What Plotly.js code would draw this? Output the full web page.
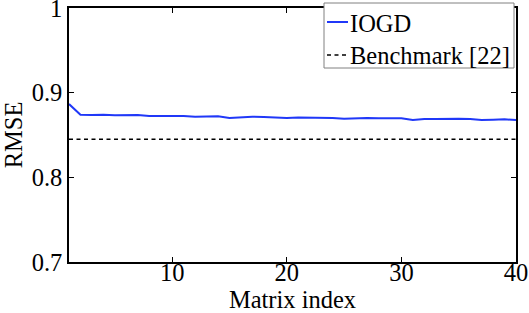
<!DOCTYPE html>
<html><head><meta charset="utf-8">
<script src="https://cdn.plot.ly/plotly-3.0.1.min.js"></script>
<style>body{margin:0;background:#fff}#c{width:529px;height:313px}</style>
</head><body><div id="c"></div>
<script>
const matrixIndex = [1,2,3,4,5,6,7,8,9,10,11,12,13,14,15,16,17,18,19,20,21,22,23,24,25,26,27,28,29,30,31,32,33,34,35,36,37,38,39,40];
const iogdRMSE = [0.8866,0.8740,0.8736,0.8740,0.8732,0.8736,0.8736,0.8724,0.8724,0.8728,0.8724,0.8716,0.8720,0.8720,0.8701,0.8712,0.8716,0.8712,0.8708,0.8701,0.8708,0.8708,0.8704,0.8701,0.8693,0.8701,0.8701,0.8697,0.8697,0.8697,0.8677,0.8689,0.8689,0.8693,0.8693,0.8689,0.8677,0.8681,0.8685,0.8677];
const benchmarkRMSE = 0.845;
const seriesNames = ['IOGD', 'Benchmark [22]'];
const yTicks = [0.7,0.8,0.9,1];
const yTickText = ['0.7','0.8','0.9','1'];
const xTicks = [10,20,30,40];

const FAM = 'Liberation Serif, Times New Roman, serif';
const FS = 24.5;
const f = s => ({family:FAM, size:s, color:'#000'});
const blue = '#2038f8';
const dash = '4px,3.5px';

// plot area in pixels (for legend placement)
const L=69, R=516, T=8, B=262;
const px = x => (x-L)/(R-L);
const py = y => (B-y)/(B-T);

const traces = [
  {x: matrixIndex, y: iogdRMSE, type:'scatter', mode:'lines', name:seriesNames[0],
   line:{color:blue, width:2}},
  {x: [matrixIndex[0], matrixIndex[matrixIndex.length-1]], y:[benchmarkRMSE, benchmarkRMSE], type:'scatter', mode:'lines', name:seriesNames[1],
   line:{color:'#000', width:1.5, dash:dash}}
];
const layout = {
  width:529, height:313,
  margin:{l:L, r:529-R, t:T, b:313-B},
  paper_bgcolor:'#fff', plot_bgcolor:'#fff',
  font: f(FS),
  showlegend:false,
  xaxis:{range:[1,40], tickvals:xTicks, ticks:'inside', ticklen:5, tickcolor:'#000',
    showline:true, linecolor:'#000', linewidth:1.5, mirror:'ticks', showgrid:false, zeroline:false,
    tickfont:f(FS), automargin:false, ticklabeloverflow:'allow', ticklabelstandoff:-12,
    title:{text:'Matrix index', font:f(FS), standoff:0}},
  yaxis:{range:[0.7,1], tickvals:yTicks, ticktext:yTickText, ticks:'inside', ticklen:5, tickcolor:'#000',
    showline:true, linecolor:'#000', linewidth:1.5, mirror:'ticks', showgrid:false, zeroline:false,
    tickfont:f(FS), automargin:false, ticklabeloverflow:'allow',
    title:{text:'RMSE', font:f(FS), standoff:4}},
  shapes:[
    {type:'rect', xref:'paper', yref:'paper', x0:px(324), x1:px(514), y0:py(68), y1:py(3),
     line:{color:'#808080', width:1}, fillcolor:'#fff', layer:'above'},
    {type:'line', xref:'paper', yref:'paper', x0:px(327), x1:px(348), y0:py(22), y1:py(22),
     line:{color:blue, width:2}, layer:'above'},
    {type:'line', xref:'paper', yref:'paper', x0:px(327), x1:px(348), y0:py(55), y1:py(55),
     line:{color:'#000', width:1.5, dash:dash}, layer:'above'}
  ],
  annotations:[
    {xref:'paper', yref:'paper', x:px(348), y:py(23), xanchor:'left', yanchor:'middle', showarrow:false,
     text:seriesNames[0], font:f(FS)},
    {xref:'paper', yref:'paper', x:px(348), y:py(55), xanchor:'left', yanchor:'middle', showarrow:false,
     text:seriesNames[1], font:f(FS)}
  ]
};
Plotly.newPlot('c', traces, layout, {displayModeBar:false});
</script></body></html>
